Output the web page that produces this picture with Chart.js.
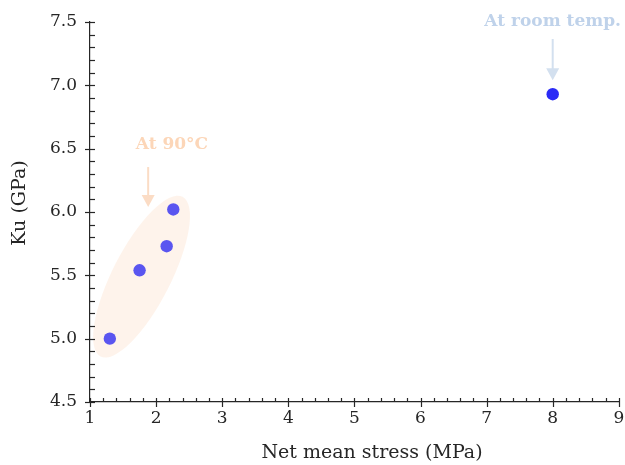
<!DOCTYPE html>
<html>
<head>
<meta charset="utf-8">
<script src="https://cdn.jsdelivr.net/npm/chart.js@4.4.1/dist/chart.umd.min.js"></script>
<style>
  html, body { margin: 0; padding: 0; background: #fff; }
  #wrap { width: 625px; height: 465px; }
</style>
</head>
<body>
<div id="wrap"><canvas id="kuChart"></canvas></div>
<script>
// Data
const stress90 = [1.30, 1.75, 2.16, 2.26];   // MPa, samples at 90°C
const ku90 = [5.00, 5.54, 5.73, 6.02];       // GPa
const stressRoom = [8.0];                    // MPa, room temperature
const kuRoom = [6.93];                       // GPa

const xRange = [1, 9];
const yRange = [4.5, 7.5];

// Highlight ellipse around the 90°C group (data units)
const groupCenter = { x: 1.78, y: 5.49 };
const groupTip = { x: 2.40, y: 6.12 };

const FONT = "'DejaVu Serif', 'Liberation Serif', serif";
const INK = "#262626";

function toPoints(xs, ys) {
  return xs.map((x, i) => ({ x: x, y: ys[i] }));
}

// Ellipse, arrows and notes
const annotations = {
  id: "annotations",
  beforeDatasetsDraw(chart) {
    const { ctx, scales: { x, y } } = chart;
    const cx = x.getPixelForValue(groupCenter.x);
    const cy = y.getPixelForValue(groupCenter.y);
    const tx = x.getPixelForValue(groupTip.x);
    const ty = y.getPixelForValue(groupTip.y);
    const a = Math.hypot(tx - cx, ty - cy);
    const ang = Math.atan2(ty - cy, tx - cx);
    ctx.save();
    ctx.fillStyle = "rgba(253, 238, 226, 0.7)";
    ctx.beginPath();
    ctx.ellipse(cx, cy, a, 29, ang, 0, Math.PI * 2);
    ctx.fill();
    ctx.restore();
  },
  afterDatasetsDraw(chart) {
    const { ctx, scales: { x, y } } = chart;
    ctx.save();
    // At 90°C
    ctx.font = "bold 17px " + FONT;
    ctx.textAlign = "center";
    ctx.textBaseline = "alphabetic";
    ctx.fillStyle = "#fcd6b8";
    ctx.fillText("At 90°C", x.getPixelForValue(2.24), y.getPixelForValue(6.5));
    drawArrow(ctx, x.getPixelForValue(1.88), y.getPixelForValue(6.355), y.getPixelForValue(6.04), "#fbdcc5");
    // At room temp.
    ctx.fillStyle = "#bfd2ea";
    ctx.fillText("At room temp.", x.getPixelForValue(8.0), y.getPixelForValue(7.47));
    drawArrow(ctx, x.getPixelForValue(8.0), y.getPixelForValue(7.366), y.getPixelForValue(7.04), "#d3e0ef");
    ctx.restore();
  },
  afterDraw(chart) {
    const { ctx, chartArea, scales: { x, y } } = chart;
    ctx.save();
    ctx.strokeStyle = INK;
    ctx.lineWidth = 1.2;
    // minor + major ticks on the y axis
    const left = chartArea.left;
    for (let v = yRange[0]; v <= yRange[1] + 1e-9; v += 0.1) {
      const py = Math.round(y.getPixelForValue(v)) + 0.5;
      const major = Math.abs(v * 2 - Math.round(v * 2)) < 1e-6;
      ctx.beginPath();
      ctx.moveTo(left - (major ? 5 : 0), py);
      ctx.lineTo(left + 5, py);
      ctx.stroke();
    }
    // minor + major ticks on the x axis
    const bottom = chartArea.bottom;
    for (let v = xRange[0]; v <= xRange[1] + 1e-9; v += 0.2) {
      const px = Math.round(x.getPixelForValue(v)) + 0.5;
      const major = Math.abs(v - Math.round(v)) < 1e-6;
      ctx.beginPath();
      ctx.moveTo(px, bottom - 4);
      ctx.lineTo(px, bottom + (major ? 5 : 0));
      ctx.stroke();
    }
    // axis titles
    ctx.fillStyle = INK;
    ctx.font = "19px " + FONT;
    ctx.textAlign = "center";
    ctx.textBaseline = "alphabetic";
    ctx.fillText("Net mean stress (MPa)", 372, 458);
    ctx.translate(25, 203);
    ctx.rotate(-Math.PI / 2);
    ctx.fillText("Ku (GPa)", 0, 0);
    ctx.restore();
  }
};

function drawArrow(ctx, px, y0, y1, color) {
  ctx.save();
  ctx.strokeStyle = color;
  ctx.fillStyle = color;
  ctx.lineWidth = 2;
  ctx.beginPath();
  ctx.moveTo(px, y0);
  ctx.lineTo(px, y1 - 10);
  ctx.stroke();
  ctx.beginPath();
  ctx.moveTo(px - 6.5, y1 - 12);
  ctx.lineTo(px + 6.5, y1 - 12);
  ctx.lineTo(px, y1);
  ctx.closePath();
  ctx.fill();
  ctx.restore();
}

const ctx = document.getElementById("kuChart").getContext("2d");
new Chart(ctx, {
  type: "scatter",
  data: {
    datasets: [
      {
        label: "At 90°C",
        data: toPoints(stress90, ku90),
        backgroundColor: "#5a55f0",
        borderWidth: 0,
        pointRadius: 6.2
      },
      {
        label: "At room temp.",
        data: toPoints(stressRoom, kuRoom),
        backgroundColor: "#2b2bf6",
        borderWidth: 0,
        pointRadius: 6.2
      }
    ]
  },
  options: {
    responsive: true,
    maintainAspectRatio: false,
    animation: false,
    layout: { padding: { left: 0, right: 3, top: 22, bottom: 0 } },
    plugins: { legend: { display: false }, tooltip: { enabled: false } },
    scales: {
      x: {
        type: "linear",
        min: xRange[0],
        max: xRange[1],
        afterFit(scale) {
          scale.height = 63;
          scale.paddingLeft = 0;
          scale.paddingRight = 0;
        },
        ticks: { stepSize: 1, color: INK, font: { family: FONT, size: 17 }, padding: 6, maxRotation: 0 },
        grid: { display: false, drawTicks: false },
        border: { display: true, color: INK, width: 1.2 }
      },
      y: {
        type: "linear",
        min: yRange[0],
        max: yRange[1],
        afterFit(scale) {
          scale.width = 90;
          scale.paddingTop = 0;
          scale.paddingBottom = 0;
        },
        ticks: {
          stepSize: 0.5,
          color: INK,
          font: { family: FONT, size: 17 },
          padding: 13,
          callback: v => v.toFixed(1)
        },
        grid: { display: false, drawTicks: false },
        border: { display: true, color: INK, width: 1.2 }
      }
    }
  },
  plugins: [annotations]
});
</script>
</body>
</html>
